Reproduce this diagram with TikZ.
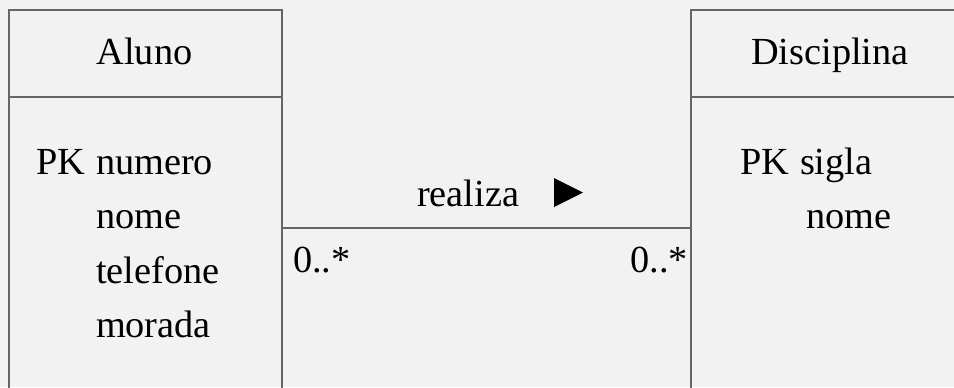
\documentclass[tikz,border=0pt]{standalone}
\usepackage{fontspec}
\setmainfont{Liberation Serif}
\definecolor{bgc}{HTML}{F2F2F2}
\definecolor{linec}{HTML}{666666}
\begin{document}
\begin{tikzpicture}[x=1bp,y=-1bp,
  box/.style={draw=linec, line width=1.3bp, inner sep=0pt, outer sep=0pt, anchor=north west},
  txt/.style={anchor=base west, inner sep=0pt, outer sep=0pt, font=\fontsize{38.3bp}{46bp}\selectfont, text=black},
  ttl/.style={anchor=base, inner sep=0pt, outer sep=0pt, font=\fontsize{38.3bp}{46bp}\selectfont, text=black},
  sep/.style={draw=linec, line width=1.3bp},
  assoc/.style={draw=linec, line width=1.3bp}]
\fill[bgc] (0,0) rectangle (954,387);
\useasboundingbox (0,0) rectangle (954,387);
% classes
\node[box, minimum width=273bp, minimum height=436bp] (aluno) at (9,10) {};
\node[box, minimum width=320bp, minimum height=436bp] (disc) at (691,10) {};
\draw[sep] ([yshift=-87bp]aluno.north west) -- ([yshift=-87bp]aluno.north east);
\draw[sep] ([yshift=-87bp]disc.north west) -- ([yshift=-87bp]disc.north east);
% titles
\node[ttl] (tA) at (144.5,64) {Aluno};
\node[ttl] (tD) at (830,64) {Disciplina};
% attributes
\node[txt] (pk1) at (36,174) {PK};
\node[txt] (a1) at (96,174) {numero};
\node[txt] (a2) at (96,228) {nome};
\node[txt] (a3) at (96,283) {telefone};
\node[txt] (a4) at (96,337) {morada};
\node[txt] (pk2) at (740,174) {PK};
\node[txt] (b1) at (800,174) {sigla};
\node[txt] (b2) at (806,228) {nome};
% association
\draw[assoc] (aluno.east) -- (disc.west);
\node[txt] (rel) at (417,206) {realiza};
\fill[black] (554,178) -- (583,192.5) -- (554,207) -- cycle;
\node[txt] (m1) at (293,272) {0..*};
\node[txt, anchor=base east] (m2) at (688,272) {0..*};
\end{tikzpicture}
\end{document}
